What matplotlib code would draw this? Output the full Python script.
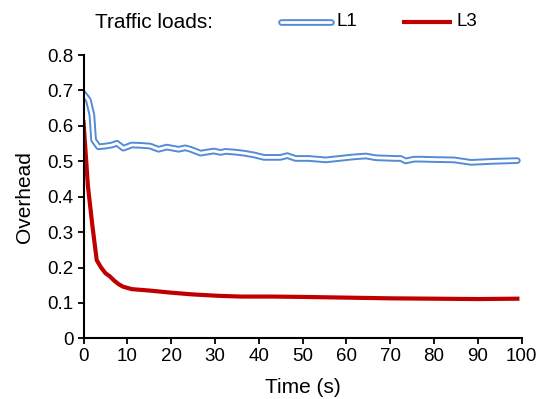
import matplotlib.pyplot as plt
import numpy as np

plt.rcParams['font.family'] = ['Liberation Sans', 'DejaVu Sans']

# Overhead over time
t_l1 = [0, 1.1, 1.9, 2.3, 3.4, 5, 6.5, 7.6, 9.1, 11, 13, 15.2, 17.1, 19, 21.7, 23.2,
        24.4, 26.7, 29.7, 31.3, 32.4, 34.5, 36.6, 38.9, 41.2, 44.9, 46.5, 48.4, 51.4,
        55.3, 58.3, 61.3, 64.4, 66.7, 71.2, 72.4, 73.5, 75.4, 76.9, 80, 84.5, 88.4,
        93.7, 99]
l1 = [0.691, 0.673, 0.631, 0.56, 0.541, 0.543, 0.546, 0.551, 0.537, 0.546, 0.545,
      0.543, 0.534, 0.540, 0.534, 0.538, 0.534, 0.523, 0.529, 0.525, 0.528, 0.526,
      0.523, 0.518, 0.511, 0.511, 0.516, 0.508, 0.508, 0.504, 0.508, 0.512, 0.515,
      0.510, 0.508, 0.508, 0.501, 0.506, 0.506, 0.505, 0.504, 0.497, 0.500, 0.502]

t_l3 = [0, 1, 2, 3, 4, 5, 6, 7, 8, 9, 11, 15, 20, 25, 31, 36, 43, 50, 60, 70, 80, 90, 99]
l3 = [0.61, 0.43, 0.32, 0.221, 0.20, 0.184, 0.175, 0.163, 0.153, 0.146, 0.139, 0.135,
      0.129, 0.124, 0.120, 0.118, 0.118, 0.117, 0.115, 0.113, 0.112, 0.111, 0.112]

blue = '#558bd6'
red = '#c00000'

fig = plt.figure(figsize=(5.39, 3.99), dpi=100)
ax = fig.add_axes([0.155, 0.152, 0.813, 0.71])

# L1 drawn as a hollow (double) line
ax.plot(t_l1, l1, color=blue, linewidth=4.8, solid_capstyle='round', solid_joinstyle='round')
ax.plot(t_l1, l1, color='white', linewidth=2.0, solid_capstyle='round', solid_joinstyle='round')
ax.plot(t_l3, l3, color=red, linewidth=3.0, solid_joinstyle='round')

ax.set_xlim(0, 100)
ax.set_ylim(0, 0.8)
ax.set_xticks(np.arange(0, 101, 10))
ax.set_yticks(np.arange(0, 0.81, 0.1))
ax.set_yticklabels(['0'] + ['%.1f' % v for v in np.arange(0.1, 0.81, 0.1)])
ax.spines['top'].set_visible(False)
ax.spines['right'].set_visible(False)
ax.spines['left'].set_linewidth(1.5)
ax.spines['bottom'].set_linewidth(1.5)
ax.tick_params(direction='out', length=4, width=1.3, labelsize=13.5, pad=3)

ax.set_xlabel('Time (s)', fontsize=15, labelpad=9)
ax.set_ylabel('Overhead', fontsize=15, labelpad=10)

# legend-like header, in pixel coordinates of the figure
hx = fig.add_axes([0, 0, 1, 1], facecolor='none')
hx.set_xlim(0, 539)
hx.set_ylim(399, 0)
hx.axis('off')
hx.text(95, 22, 'Traffic loads:', fontsize=15, va='center')
hx.plot([281, 331], [22.3, 22.3], color=blue, linewidth=4.8, solid_capstyle='round')
hx.plot([281, 331], [22.3, 22.3], color='white', linewidth=2.0, solid_capstyle='round')
hx.text(336, 21, 'L1', fontsize=13.5, va='center')
hx.plot([402, 452], [22.3, 22.3], color=red, linewidth=3.0, solid_capstyle='butt')
hx.text(457, 21, 'L3', fontsize=13.5, va='center')

fig.savefig('out.png', dpi=100)
